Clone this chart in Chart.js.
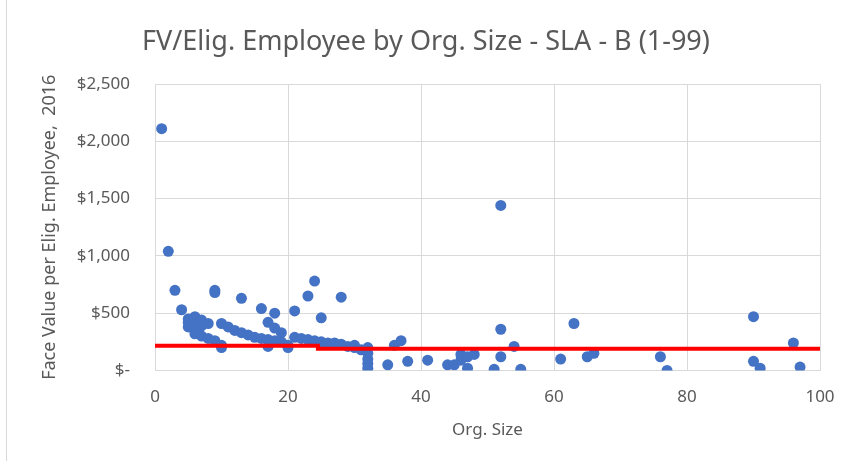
<!DOCTYPE html>
<html>
<head>
<meta charset="utf-8">
<script src="https://cdn.jsdelivr.net/npm/chart.js@4.4.1/dist/chart.umd.min.js"></script>
<style>
  html, body { margin: 0; padding: 0; background: #fff; }
  #wrap { width: 852px; height: 461px; }
</style>
</head>
<body>
<div id="wrap"><canvas id="fvChart" width="852" height="461"></canvas></div>
<script>
// org size (x) and face value per eligible employee (y)
var orgSize = [1, 2, 3, 4, 5, 5, 5, 6, 6, 6, 6, 7, 7, 7, 8, 8, 9, 9, 9, 10, 10, 10, 11, 12, 13, 13, 14, 15,
    16, 16, 17, 17, 17, 18, 18, 18, 19, 19, 20, 20, 21, 21, 22, 23, 23, 24, 24, 25, 25, 26, 27, 28, 28, 29,
    30, 30, 31, 32, 32, 32, 32, 32, 35, 36, 37, 38, 41, 44, 45, 46, 46, 47, 47, 48, 51, 52, 52, 52, 54, 55,
    61, 63, 65, 66, 76, 77, 90, 90, 91, 96, 97];
var faceValue = [2110, 1040, 700, 530, 450, 420, 380, 470, 400, 350, 320, 440, 390, 300, 410, 280, 700, 680, 260,
    410, 220, 200, 380, 350, 630, 330, 310, 290, 540, 280, 420, 270, 210, 500, 370, 260, 330, 250, 220, 200,
    520, 290, 280, 650, 270, 780, 260, 460, 250, 240, 240, 640, 230, 210, 220, 200, 180, 200, 150, 100, 60, 20,
    50, 220, 260, 80, 90, 50, 50, 140, 90, 20, 120, 140, 10, 1440, 360, 120, 210, 10, 100, 410, 120, 150, 120,
    0, 470, 80, 20, 240, 30];
// red benchmark line (step)
var benchX = [0, 24.5, 24.5, 100];
var benchY = [215, 215, 190, 190];
var yTicks = [0, 500, 1000, 1500, 2000, 2500];

var txt = '#595959';
var grid = '#d9d9d9';
var fontFam = "'Noto Sans', 'Open Sans', sans-serif";

var points = orgSize.map(function (v, i) { return { x: v, y: faceValue[i] }; });
var bench = benchX.map(function (v, i) { return { x: v, y: benchY[i] }; });

var leftFrame = {
    id: 'leftFrame',
    beforeDraw: function (chart) {
        var c = chart.ctx;
        c.save();
        c.fillStyle = '#fff';
        c.fillRect(0, 0, chart.width, chart.height);
        c.strokeStyle = grid;
        c.lineWidth = 1;
        c.beginPath();
        c.moveTo(6.5, 0);
        c.lineTo(6.5, chart.height);
        c.stroke();
        c.restore();
    }
};

new Chart(document.getElementById('fvChart'), {
    type: 'scatter',
    data: {
        datasets: [{
            type: 'line',
            label: 'Benchmark',
            data: bench,
            borderColor: '#ff0000',
            borderWidth: 4,
            pointRadius: 0,
            fill: false,
            tension: 0,
            order: 0
        }, {
            label: 'FV/Elig. Employee',
            data: points,
            backgroundColor: '#4472c4',
            borderWidth: 0,
            pointRadius: 5.5,
            order: 1
        }]
    },
    options: {
        responsive: false,
        animation: false,
        layout: { padding: 0 },
        plugins: {
            legend: { display: false },
            tooltip: { enabled: false },
            title: {
                display: true,
                text: 'FV/Elig. Employee by Org. Size - SLA - B (1-99)',
                color: txt,
                font: { family: fontFam, size: 27, weight: 'normal' },
                padding: { top: 26, bottom: 25.6 }
            }
        },
        scales: {
            x: {
                type: 'linear',
                min: 0,
                max: 100,
                ticks: { stepSize: 20, color: txt, padding: 16, font: { family: fontFam, size: 17 } },
                grid: { color: grid, drawTicks: false },
                border: { color: grid },
                title: {
                    display: true, text: 'Org. Size', color: txt,
                    font: { family: fontFam, size: 17 }, padding: { top: 0, bottom: 21 }
                },
                afterFit: function (s) { s.height = 90.5; }
            },
            y: {
                min: 0,
                max: 2500,
                afterBuildTicks: function (s) { s.ticks = yTicks.map(function (v) { return { value: v }; }); },
                ticks: {
                    color: txt, padding: 25, font: { family: fontFam, size: 17 },
                    callback: function (v) { return v === 0 ? '$-' : '$' + v.toLocaleString('en-US'); }
                },
                grid: { color: grid, drawTicks: false },
                border: { color: grid },
                title: {
                    display: true, text: 'Face Value per Elig. Employee,  2016', color: txt,
                    font: { family: fontFam, size: 18 }, padding: { top: 39, bottom: 0 }
                },
                afterFit: function (s) { s.width = 155; }
            },
            // empty right-hand axis that only reserves the margin on the right
            yRight: {
                position: 'right',
                display: true,
                grid: { display: false, drawTicks: false },
                border: { display: false },
                ticks: { display: false },
                afterFit: function (s) { s.width = 32; }
            }
        }
    },
    plugins: [leftFrame]
});
</script>
</body>
</html>
